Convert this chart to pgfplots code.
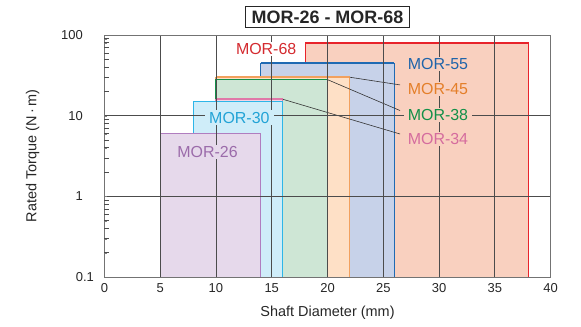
\documentclass[border=0pt]{standalone}
\usepackage{fontspec}
\setmainfont{Liberation Sans}
\usepackage{pgfplots}
\pgfplotsset{compat=1.18}
\definecolor{e68}{HTML}{E8242B}\definecolor{f68}{HTML}{F9D0BF}\definecolor{l68}{HTML}{D42A2F}
\definecolor{e55}{HTML}{1F6AB3}\definecolor{f55}{HTML}{C7D2E9}\definecolor{l55}{HTML}{1F64AA}
\definecolor{e45}{HTML}{F2A15E}\definecolor{f45}{HTML}{FEE0C6}\definecolor{l45}{HTML}{E47F2A}
\definecolor{e38}{HTML}{12904A}\definecolor{f38}{HTML}{CEE6D5}\definecolor{l38}{HTML}{129048}
\definecolor{e34}{HTML}{E079A8}\definecolor{f34}{HTML}{F6D3E3}\definecolor{l34}{HTML}{D56C9E}
\definecolor{e30}{HTML}{2DB6E8}\definecolor{f30}{HTML}{CFEDF9}\definecolor{l30}{HTML}{22A3D6}
\definecolor{e26}{HTML}{B07DBF}\definecolor{f26}{HTML}{E6D9EB}\definecolor{l26}{HTML}{9B6BAA}
\begin{document}
\begin{tikzpicture}
\begin{axis}[
  scale only axis, width=446bp, height=242bp,
  xmin=0, xmax=40, ymode=log, ymin=0.1, ymax=100,
  xtick={0,5,...,40}, ytick={0.1,1,10,100},
  yticklabels={{\makebox[7bp][l]{0.1}},1,10,100},
  minor ytick={},
  extra y ticks={0.2,0.3,0.4,0.5,0.6,0.7,0.8,0.9,2,3,4,5,6,7,8,9,20,30,40,50,60,70,80,90},
  extra y tick labels={},
  extra y tick style={ymajorgrids=false, major tick length=5bp, tick align=inside,
     major tick style={black!70, line width=0.8bp}},
  /pgf/number format/assume math mode=true,
  xtick pos=bottom, ytick pos=left,
  major tick length=0pt,
  grid=major, major grid style={color=black!70, line width=0.8bp},
  axis line style={gray!90!black, line width=0.9bp},
  axis on top,
  ticklabel style={font=\fontsize{13}{15}\selectfont, text=black!85},
  xticklabel style={yshift=-3bp},
  yticklabel style={xshift=-18bp},
  xlabel={Shaft Diameter (mm)},
  xlabel style={font=\fontsize{14.5}{16}\selectfont, text=black!85, yshift=-6bp},
  ylabel={Rated Torque (N\,·\,m)},
  ylabel style={font=\fontsize{14.5}{16}\selectfont, text=black!85, yshift=15bp},
  title={MOR-26 - MOR-68},
  title style={at={(0.5,1)}, anchor=south, yshift=1bp, draw=black!85, line width=1.2bp,
    inner xsep=6bp, inner ysep=4bp, text=black!85, font=\bfseries\fontsize{18}{20}\selectfont},
]
% MOR-68
\addplot[fill=f68, draw=e68, line width=1bp] coordinates {(18,0.1)(18,80)(38,80)(38,0.1)} -- cycle;
\addplot[draw=e68, line width=1.6bp] coordinates {(18,80)(38,80)};
% MOR-55
\addplot[fill=f55, draw=e55, line width=1bp] coordinates {(14,0.1)(14,45)(26,45)(26,0.1)} -- cycle;
\addplot[draw=e55, line width=1.6bp] coordinates {(14,45)(26,45)};
% MOR-45
\addplot[fill=f45, draw=e45, line width=1bp] coordinates {(10,0.1)(10,30)(22,30)(22,0.1)} -- cycle;
\addplot[draw=e45, line width=1.6bp] coordinates {(10,30)(22,30)};
% MOR-38
\addplot[fill=f38, draw=e38, line width=1bp] coordinates {(10,0.1)(10,28)(20,28)(20,0.1)} -- cycle;
\addplot[draw=e38, line width=1.6bp] coordinates {(10,28)(20,28)};
% MOR-34
\addplot[fill=f34, draw=e34, line width=1bp] coordinates {(10,0.1)(10,16)(16,16)(16,0.1)} -- cycle;
\addplot[draw=e34, line width=1.6bp] coordinates {(10,16)(16,16)};
% MOR-30
\addplot[fill=f30, draw=e30, line width=1bp] coordinates {(8,0.1)(8,15)(16,15)(16,0.1)} -- cycle;
\addplot[draw=e30, line width=1.6bp] coordinates {(8,15)(16,15)};
% MOR-26
\addplot[fill=f26, draw=e26, line width=1bp] coordinates {(5,0.1)(5,6)(14,6)(14,0.1)} -- cycle;
\addplot[draw=e26, line width=1.6bp] coordinates {(5,6)(14,6)};
% leader lines
\addplot[black!80, line width=0.6bp] coordinates {(22,30)(26.5,24.1)};
\addplot[black!80, line width=0.6bp] coordinates {(20,28)(26.5,11.6)};
\addplot[black!80, line width=0.6bp] coordinates {(16,16)(26.5,5.94)};
\coordinate (c68) at (axis cs:14.5,67);
\coordinate (c55) at (axis cs:29.9,43.5);
\coordinate (c45) at (axis cs:29.9,21.4);
\coordinate (c38) at (axis cs:29.9,10.3);
\coordinate (c34) at (axis cs:29.9,5.16);
\coordinate (c30) at (axis cs:12.1,9.5);
\coordinate (c26) at (axis cs:9.25,3.56);
\end{axis}
\begin{scope}[every node/.style={font=\fontsize{16}{18}\selectfont, inner xsep=4bp, inner ysep=1.5bp}]
\node[fill=white, text=l68] at (c68) {MOR-68};
\node[fill=f68, text=l55] at (c55) {MOR-55};
\node[fill=f68, text=l45] at (c45) {MOR-45};
\node[fill=f68, text=l38] at (c38) {MOR-38};
\node[fill=f68, text=l34] at (c34) {MOR-34};
\node[fill=f30, text=l30] at (c30) {MOR-30};
\node[fill=f26, text=l26] at (c26) {MOR-26};
\end{scope}
\path ([shift={(-104.3bp,-49.3bp)}]current axis.south west) rectangle ([shift={(30.3bp,35bp)}]current axis.north east);
\end{tikzpicture}
\end{document}
